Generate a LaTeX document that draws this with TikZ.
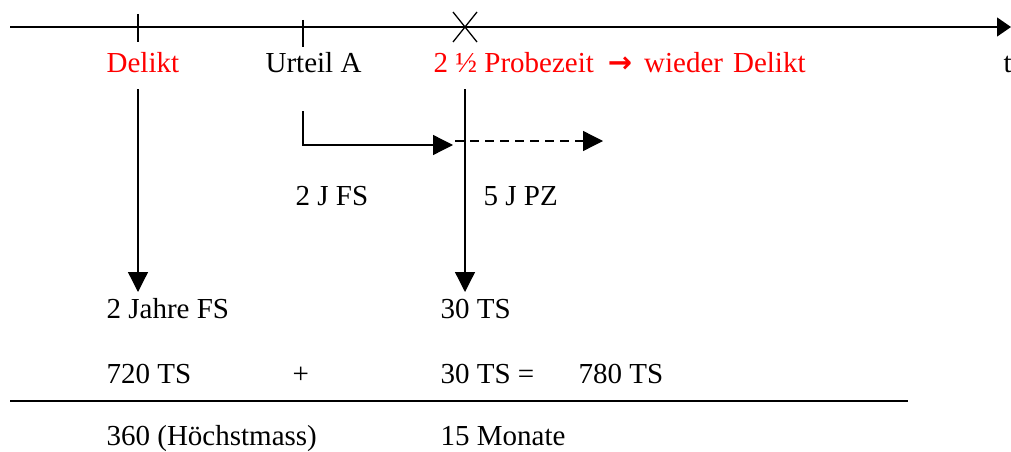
\documentclass[tikz,border=0pt]{standalone}
\usepackage{fontspec}
\setmainfont{Liberation Serif}
\newfontfamily\arrowfont{DejaVu Sans}
\usepackage{tikz}
\usetikzlibrary{arrows.meta}
\tikzset{
  lbl/.style={anchor=base west, inner sep=0pt, font=\fontsize{29}{34}\selectfont},
  redlbl/.style={lbl, text=red},
  conn/.style={-{Triangle[length=20pt,width=20pt]}},
}

\begin{document}
\begin{tikzpicture}[x=1pt, y=-1pt, line width=1.3pt]
\useasboundingbox (0,0) rectangle (1011,452);

\coordinate (tstart) at (10,27);
\coordinate (tend) at (1011,27);
\draw[-{Triangle[length=14pt,width=19pt]}] (tstart) -- (tend);
\draw (138,14) -- (138,42);
\draw (303,20) -- (303,47);
\draw (453,12) -- (477,42);
\draw (453,42) -- (477,12);

\node[redlbl] (delikt) at (106,72) {Delikt};
\node[lbl] (urteil) at (265,72) {Urteil A};
\node[redlbl] (probe) at (433,72) {2 ½ Probezeit\hspace{14pt}{\arrowfont\bfseries →}\hspace{12pt}wieder\hspace{10pt}Delikt};
\node[lbl] (t) at (1003,72) {t};

\node[lbl] (fs) at (295,205) {2 J FS};
\node[lbl] (pz) at (483,205) {5 J PZ};

\node[lbl] (jahre) at (106,318) {2 Jahre FS};
\node[lbl] (ts) at (440,318) {30 TS};
\node[lbl] (sumA) at (106,383) {720 TS};
\node[lbl] (plus) at (292,383) {+};
\node[lbl] (sumB) at (440,383) {30 TS =};
\node[lbl] (total) at (578,383) {780 TS};
\node[lbl] (max) at (106,445) {360 (Höchstmass)};
\node[lbl] (months) at (440,445) {15 Monate};

\coordinate (dtop) at (138,89);
\coordinate (dbot) at (138,292);
\coordinate (utop) at (303,111);
\coordinate (uend) at (453,145);
\coordinate (pzstart) at (455,141);
\coordinate (pzend) at (603,141);
\coordinate (ptop) at (465,89);
\coordinate (pbot) at (465,292);

\draw[conn] (dtop) -- (dbot);
\draw[conn] (utop) |- (uend);
\draw[conn, dash pattern=on 9pt off 6pt] (pzstart) -- (pzend);
\draw[conn] (ptop) -- (pbot);

\coordinate (lstart) at (10,401);
\coordinate (lend) at (908,401);
\draw[line width=1.6pt] (lstart) -- (lend);
\end{tikzpicture}
\end{document}
